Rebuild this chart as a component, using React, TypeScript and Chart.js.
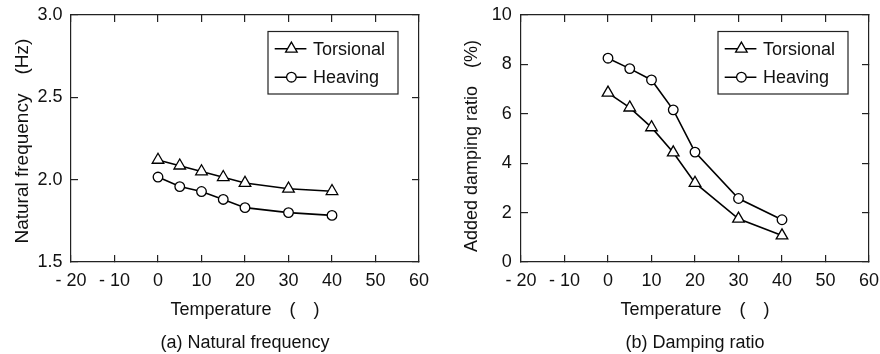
import React, { useEffect, useRef } from "react";
import { Chart, registerables } from "chart.js";

Chart.register(...registerables);

// ---------- data ----------
const temperatures = [0, 5, 10, 15, 20, 30, 40];
const freqTorsional = [2.12, 2.085, 2.05, 2.015, 1.98, 1.945, 1.93];
const freqHeaving = [2.016, 1.958, 1.928, 1.88, 1.83, 1.8, 1.783];
const dampTorsional = [6.85, 6.25, 5.45, 4.43, 3.2, 1.75, 1.07];
const dampHeaving = [8.25, 7.83, 7.37, 6.16, 4.45, 2.57, 1.71];
const seriesLabels = ["Torsional", "Heaving"];

const xTickValues = [-20, -10, 0, 10, 20, 30, 40, 50, 60];
const xTickLabels = ["- 20", "- 10", "0", "10", "20", "30", "40", "50", "60"];
const freqTickValues = [1.5, 2.0, 2.5, 3.0];
const freqTickLabels = ["1.5", "2.0", "2.5", "3.0"];
const dampTickValues = [0, 2, 4, 6, 8, 10];
const dampTickLabels = ["0", "2", "4", "6", "8", "10"];

const xTitle = "Temperature\u3000(\u3000)";
const freqTitle = "Natural frequency\u3000(Hz) ";
const dampTitle = "Added damping ratio\u3000(%)   ";
const captions = ["(a) Natural frequency", "(b) Damping ratio"];

// ---------- style ----------
const FONT = "'Liberation Sans', Arial, Helvetica, sans-serif";
const INK = "#111";
const AX = "#222";
const W = 440;
const H = 354;
const TICK_SIZE = 18;

function drawMarker(ctx: CanvasRenderingContext2D, style: string, x: number, y: number, r: number) {
  ctx.beginPath();
  if (style === "triangle") {
    let rad = 0;
    ctx.moveTo(x + Math.sin(rad) * r, y - Math.cos(rad) * r);
    rad += (2 * Math.PI) / 3;
    ctx.lineTo(x + Math.sin(rad) * r, y - Math.cos(rad) * r);
    rad += (2 * Math.PI) / 3;
    ctx.lineTo(x + Math.sin(rad) * r, y - Math.cos(rad) * r);
    ctx.closePath();
  } else {
    ctx.arc(x, y, r, 0, Math.PI * 2);
  }
  ctx.fill();
  ctx.stroke();
}

const boxLegendPlugin = {
  id: "boxLegend",
  afterDraw(chart: any) {
    const { ctx, chartArea } = chart;
    const caption = chart.options.plugins.boxLegend?.caption ?? "";
    const left = chartArea.right - 151;
    const right = chartArea.right - 21;
    const top = chartArea.top + 16.5;
    const bottom = chartArea.top + 79;
    ctx.save();
    ctx.fillStyle = "#fff";
    ctx.fillRect(left, top, right - left, bottom - top);
    ctx.strokeStyle = AX;
    ctx.lineWidth = 1.2;
    ctx.strokeRect(left, top, right - left, bottom - top);
    chart.data.datasets.forEach((ds: any, i: number) => {
      const y = top + 17.3 + i * 28.4;
      ctx.strokeStyle = "#000";
      ctx.lineWidth = 1.6;
      ctx.beginPath();
      ctx.moveTo(left + 6.7, y);
      ctx.lineTo(left + 38.4, y);
      ctx.stroke();
      ctx.fillStyle = "#fff";
      ctx.lineWidth = 1.3;
      drawMarker(ctx, ds.pointStyle, left + 23.4, y, ds.pointRadius);
      ctx.fillStyle = INK;
      ctx.font = `18px ${FONT}`;
      ctx.textAlign = "left";
      ctx.textBaseline = "middle";
      ctx.fillText(ds.label, left + 45, y + 1);
    });
    ctx.fillStyle = INK;
    ctx.font = `18px ${FONT}`;
    ctx.textAlign = "center";
    ctx.textBaseline = "middle";
    ctx.fillText(caption, (chartArea.left + chartArea.right) / 2, 343);
    ctx.restore();
  },
};

type Cfg = {
  torsional: number[];
  heaving: number[];
  yMin: number;
  yMax: number;
  yTicks: number[];
  yTickLabels: string[];
  yTitle: string;
  yTitleSize: number;
  caption: string;
  yAxisWidth: number;
  yTitlePad: number;
  yLabelPad: number;
};

function zeroPad(s: any) {
  s.paddingTop = 0;
  s.paddingBottom = 0;
  s.paddingLeft = 0;
  s.paddingRight = 0;
}

function buildChart(canvas: HTMLCanvasElement, cfg: Cfg) {
  const fixedTicks = (values: number[]) => (scale: any) => {
    scale.ticks = values.map((v) => ({ value: v }));
  };
  const gridOpts = {
    drawOnChartArea: false,
    drawTicks: true,
    tickLength: -7,
    color: AX,
    lineWidth: 1.2,
  };
  const borderOpts = { color: AX, width: 1.2 };
  const plotWidth = 348;
  const rightWidth = W - cfg.yAxisWidth - plotWidth;

  const mk = (vals: number[]) => temperatures.map((t, i) => ({ x: t, y: vals[i] }));

  return new Chart(canvas, {
    type: "line",
    data: {
      datasets: [
        {
          label: seriesLabels[0],
          data: mk(cfg.torsional),
          borderColor: "#000",
          borderWidth: 1.6,
          pointStyle: "triangle",
          pointRadius: 6.7,
          pointBackgroundColor: "#fff",
          pointBorderColor: "#000",
          pointBorderWidth: 1.3,
          tension: 0,
        },
        {
          label: seriesLabels[1],
          data: mk(cfg.heaving),
          borderColor: "#000",
          borderWidth: 1.6,
          pointStyle: "circle",
          pointRadius: 4.8,
          pointBackgroundColor: "#fff",
          pointBorderColor: "#000",
          pointBorderWidth: 1.3,
          tension: 0,
        },
      ],
    },
    options: {
      animation: false,
      responsive: false,
      devicePixelRatio: 1,
      layout: { padding: 0 },
      plugins: {
        legend: { display: false },
        tooltip: { enabled: false },
        title: { display: false },
        boxLegend: { caption: cfg.caption },
      } as any,
      scales: {
        x: {
          type: "linear",
          position: "bottom",
          min: -20,
          max: 60,
          afterBuildTicks: fixedTicks(xTickValues),
          afterFit: (s: any) => {
            s.height = H - 262;
            zeroPad(s);
          },
          ticks: {
            callback: (_v: any, i: number) => xTickLabels[i],
            font: { family: FONT, size: TICK_SIZE },
            color: INK,
            padding: 14.9,
            maxRotation: 0,
            autoSkip: false,
          },
          grid: gridOpts,
          border: borderOpts,
          title: {
            display: true,
            text: xTitle,
            font: { family: FONT, size: 18 },
            color: INK,
            padding: { top: 0, bottom: 33 },
          },
        },
        x2: {
          type: "linear",
          position: "top",
          min: -20,
          max: 60,
          afterBuildTicks: fixedTicks(xTickValues),
          afterFit: (s: any) => {
            s.height = 15;
            zeroPad(s);
          },
          ticks: { display: false },
          grid: gridOpts,
          border: borderOpts,
        },
        y: {
          type: "linear",
          position: "left",
          min: cfg.yMin,
          max: cfg.yMax,
          afterBuildTicks: fixedTicks(cfg.yTicks),
          afterFit: (s: any) => {
            s.width = cfg.yAxisWidth;
            zeroPad(s);
          },
          ticks: {
            callback: (_v: any, i: number) => cfg.yTickLabels[i],
            font: { family: FONT, size: TICK_SIZE },
            color: INK,
            padding: cfg.yLabelPad,
            autoSkip: false,
          },
          grid: gridOpts,
          border: borderOpts,
          title: {
            display: true,
            text: cfg.yTitle,
            font: { family: FONT, size: cfg.yTitleSize },
            color: INK,
            padding: { top: cfg.yTitlePad, bottom: 0 },
          },
        },
        y2: {
          type: "linear",
          position: "right",
          min: cfg.yMin,
          max: cfg.yMax,
          afterBuildTicks: fixedTicks(cfg.yTicks),
          afterFit: (s: any) => {
            s.width = rightWidth;
            zeroPad(s);
          },
          ticks: { display: false },
          grid: gridOpts,
          border: borderOpts,
        },
      },
    } as any,
    plugins: [boxLegendPlugin as any],
  });
}

function Panel({ cfg }: { cfg: Cfg }) {
  const ref = useRef<HTMLCanvasElement | null>(null);
  useEffect(() => {
    if (!ref.current) return;
    const chart = buildChart(ref.current, cfg);
    return () => chart.destroy();
  }, [cfg]);
  return (
    <div style={{ width: W, height: H, position: "relative" }}>
      <canvas ref={ref} width={W} height={H} style={{ width: W, height: H, display: "block" }} />
    </div>
  );
}

const freqCfg: Cfg = {
  torsional: freqTorsional,
  heaving: freqHeaving,
  yMin: 1.5,
  yMax: 3.0,
  yTicks: freqTickValues,
  yTickLabels: freqTickLabels,
  yTitle: freqTitle,
  yTitleSize: 19,
  caption: captions[0],
  yAxisWidth: 71,
  yTitlePad: 11,
  yLabelPad: 15.5,
};

const dampCfg: Cfg = {
  torsional: dampTorsional,
  heaving: dampHeaving,
  yMin: 0,
  yMax: 10,
  yTicks: dampTickValues,
  yTickLabels: dampTickLabels,
  yTitle: dampTitle,
  yTitleSize: 18,
  caption: captions[1],
  yAxisWidth: 81,
  yTitlePad: 21,
  yLabelPad: 16.3,
};

export default function App() {
  return (
    <div
      style={{
        position: "absolute",
        left: 0,
        top: 0,
        width: 880,
        height: 354,
        display: "flex",
        background: "#fff",
      }}
    >
      <Panel cfg={freqCfg} />
      <Panel cfg={dampCfg} />
    </div>
  );
}
